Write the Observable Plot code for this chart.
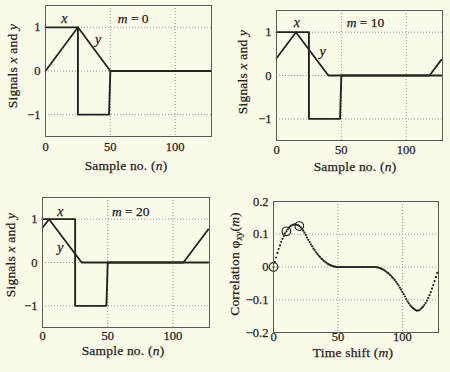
<!DOCTYPE html>
<html><head><meta charset="utf-8">
<script src="https://cdn.jsdelivr.net/npm/d3@7"></script>
<script src="https://cdn.jsdelivr.net/npm/@observablehq/plot@0.6"></script>
<style>
html,body{margin:0;padding:0;background:#fbfae9;}
#wrap{position:relative;width:450px;height:372px;overflow:hidden;background:#fbfae9;}
#wrap svg{position:absolute;overflow:visible;}
#wrap svg text{stroke:#232323;stroke-width:0.25px;}
</style></head><body><div id="wrap"></div>
<script>
// ---- data ----
const sampleTicks = [0, 50, 100];
const signalTicks = [-1, 0, 1];
const corrTicks = [-0.2, -0.1, 0, 0.1, 0.2];
const shifts = [0, 10, 20];

// signal x (breakpoints of the drawn polyline)
const xSignalN = [0, 25, 25, 49, 50, 127];
const xSignalV = [1, 1, -1, -1, 0, 0];
// signal y shifted by m (breakpoints)
const yShift0N = [0, 25, 50, 127];
const yShift0V = [0, 1, 0, 0];
const yShift10N = [0, 15, 40, 118, 127];
const yShift10V = [0.4, 1, 0, 0, 0.36];
const yShift20N = [0, 5, 30, 108, 127];
const yShift20V = [0.8, 1, 0, 0, 0.76];

// correlation phi_xy(m), m = 0..127
const corrValues = [
  0, 0.015, 0.029, 0.043, 0.055, 0.066, 0.077, 0.086, 0.095, 0.103,
  0.109, 0.115, 0.120, 0.124, 0.127, 0.129, 0.130, 0.130, 0.129, 0.128,
  0.125, 0.121, 0.117, 0.111, 0.105, 0.098, 0.090, 0.083, 0.076, 0.069,
  0.063, 0.056, 0.051, 0.045, 0.040, 0.035, 0.031, 0.026, 0.023, 0.019,
  0.016, 0.013, 0.010, 0.008, 0.006, 0.004, 0.003, 0.001, 0.001, 0,
  0, 0, 0, 0, 0, 0, 0, 0, 0, 0,
  0, 0, 0, 0, 0, 0, 0, 0, 0, 0,
  0, 0, 0, 0, 0, 0, 0, 0, 0,
  0, -0.001, -0.001, -0.003, -0.004, -0.006, -0.008, -0.010, -0.013, -0.016,
  -0.019, -0.023, -0.026, -0.031, -0.035, -0.040, -0.045, -0.051, -0.056, -0.063,
  -0.069, -0.076, -0.083, -0.090, -0.098,
  -0.105, -0.111, -0.117, -0.121, -0.125, -0.128, -0.131, -0.133, -0.133, -0.132,
  -0.129, -0.125, -0.121, -0.116, -0.110, -0.103, -0.095, -0.086, -0.077, -0.066,
  -0.055, -0.043, -0.031, -0.018
];
// ---------------------------------

const INK = "#232323";
const FONT = "'Liberation Serif', 'Times New Roman', serif";
const fmt = d => d < 0 ? "\u2212" + Math.abs(d) : String(d);
const zip = (ns, vs) => ns.map((n, i) => ({n, v: vs[i]}));
const corrData = corrValues.map((v, m) => ({m, v}));
const wrap = document.getElementById("wrap");

function gridAndAxes(xt, yt, xpad) {
  return [
    Plot.gridX(xt, {stroke: "#8a8a8a", strokeOpacity: 1, strokeWidth: 0.9, strokeDasharray: "1,2"}),
    Plot.gridY(yt, {stroke: "#8a8a8a", strokeOpacity: 1, strokeWidth: 0.9, strokeDasharray: "1,2"}),
    Plot.axisX(xt, {tickSize: 0, tickPadding: xpad, label: null, tickFormat: fmt, fontSize: 12.5, fill: INK}),
    Plot.axisY(yt, {tickSize: 0, tickPadding: 5, label: null, tickFormat: fmt, fontSize: 12.5, fill: INK})
  ];
}

function place(svg, left, top) {
  svg.style.left = left + "px";
  svg.style.top = top + "px";
  wrap.appendChild(svg);
  return d3.select(svg);
}

function addRich(sel, parts, opts) {
  const t = sel.append("text")
    .attr("font-family", FONT)
    .attr("font-size", opts.size || 13.5)
    .attr("fill", INK)
    .attr("letter-spacing", opts.ls == null ? 0.2 : opts.ls)
    .attr("text-anchor", opts.anchor || "middle");
  if (opts.rotate) t.attr("transform", `translate(${opts.x},${opts.y}) rotate(-90)`);
  else t.attr("x", opts.x).attr("y", opts.y);
  for (const p of parts) {
    const s = t.append("tspan").text(p.t);
    if (p.i) s.attr("font-style", "italic");
    if (p.sub) s.attr("font-size", "0.72em").attr("dy", "0.3em");
    if (p.up) s.attr("dy", "-0.22em");
  }
  return t;
}

const sampleLabel = [{t: "Sample no. ("}, {t: "n", i: true}, {t: ")"}];
const signalLabel = [{t: "Signals "}, {t: "x", i: true}, {t: " and "}, {t: "y", i: true}];

function signalPanel(cfg) {
  const plot = Plot.plot({
    width: 225, height: 186,
    marginLeft: cfg.ml, marginRight: cfg.mr, marginTop: cfg.mt, marginBottom: cfg.mb,
    style: {background: "transparent", fontFamily: FONT, color: INK, overflow: "visible"},
    x: {domain: [0, 128]},
    y: {domain: [-1.5, 1.5]},
    marks: [
      ...gridAndAxes(sampleTicks, signalTicks, cfg.xpad),
      Plot.line(zip(xSignalN, xSignalV), {x: "n", y: "v", stroke: INK, strokeWidth: 1.9}),
      Plot.line(zip(cfg.yn, cfg.yv), {x: "n", y: "v", stroke: INK, strokeWidth: 1.8}),
      Plot.frame({stroke: "#5a5a5a", strokeWidth: 1})
    ]
  });
  const sel = place(plot, cfg.left, cfg.top);
  const sx = plot.scale("x"), sy = plot.scale("y");
  addRich(sel, [{t: "x", i: true}], {x: sx.apply(cfg.xl[0]), y: sy.apply(cfg.xl[1]), size: 14, ls: 0});
  addRich(sel, [{t: "y", i: true}], {x: sx.apply(cfg.yl[0]), y: sy.apply(cfg.yl[1]), size: 14, ls: 0});
  addRich(sel, [{t: "m", i: true}, {t: " = " + cfg.m}], {x: sx.apply(cfg.ml2[0]), y: sy.apply(cfg.ml2[1]), size: 13.5, ls: 0});
  addRich(sel, sampleLabel, {x: cfg.xlab[0], y: cfg.xlab[1]});
  addRich(sel, signalLabel, {x: cfg.ylab[0], y: cfg.ylab[1], rotate: true});
}

signalPanel({left: 0, top: 0, ml: 45, mr: 14, mt: 5, mb: 50, xpad: 6, yn: yShift0N, yv: yShift0V, m: shifts[0],
  xl: [15, 1.08], yl: [41, 0.6], ml2: [68, 1.08], xlab: [126, 170], ylab: [17, 66]});
signalPanel({left: 225, top: 0, ml: 51, mr: 8, mt: 10, mb: 46, xpad: 5, yn: yShift10N, yv: yShift10V, m: shifts[1],
  xl: [16, 1.1], yl: [36, 0.45], ml2: [69, 1.1], xlab: [130, 171], ylab: [22, 72]});
signalPanel({left: 0, top: 186, ml: 42, mr: 16, mt: 11, mb: 45, xpad: 4, yn: yShift20N, yv: yShift20V, m: shifts[2],
  xl: [14, 1.07], yl: [14, 0.22], ml2: [68, 1.07], xlab: [123, 169], ylab: [15, 69]});

// correlation panel
{
  const circ = corrData.filter(d => shifts.includes(d.m));
  const plot = Plot.plot({
    width: 225, height: 186,
    marginLeft: 48, marginRight: 12, marginTop: 15, marginBottom: 40,
    style: {background: "transparent", fontFamily: FONT, color: INK, overflow: "visible"},
    x: {domain: [0, 128]},
    y: {domain: [-0.2, 0.2]},
    marks: [
      ...gridAndAxes(sampleTicks, corrTicks, 0),
      Plot.dot(corrData, {x: "m", y: "v", r: 1.1, fill: INK, stroke: "none"}),
      Plot.dot(circ, {x: "m", y: "v", r: 4.3, fill: "none", stroke: INK, strokeWidth: 1.2}),
      Plot.frame({stroke: "#5a5a5a", strokeWidth: 1})
    ]
  });
  const sel = place(plot, 225, 186);
  addRich(sel, [{t: "Time shift ("}, {t: "m", i: true}, {t: ")"}], {x: 128, y: 171});
  addRich(sel, [{t: "Correlation \u03c6"}, {t: "xy", i: true, sub: true}, {t: "(", up: true}, {t: "m", i: true}, {t: ")"}],
    {x: 14, y: 78, rotate: true, ls: 0.2});
}
</script></body></html>
